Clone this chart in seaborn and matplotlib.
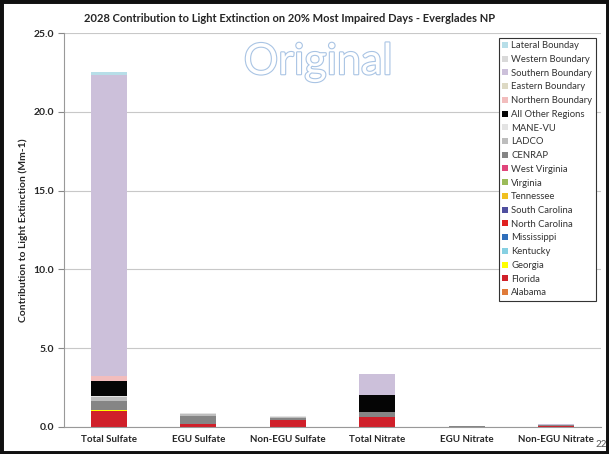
"""2028 light extinction contributions at Everglades NP, stacked by source region."""

import matplotlib.pyplot as plt
import matplotlib.patheffects as pe
import numpy as np
import pandas as pd
import seaborn as sns
from matplotlib.patches import Patch, Rectangle


CATEGORIES = ["Total Sulfate", "EGU Sulfate", "Non-EGU Sulfate",
              "Total Nitrate", "EGU Nitrate", "Non-EGU Nitrate"]

# legend order (top of stack first)
SOURCES = ["Lateral Bounday", "Western Boundary", "Southern Boundary",
           "Eastern Boundary", "Northern Boundary", "All Other Regions",
           "MANE-VU", "LADCO", "CENRAP", "West Virginia", "Virginia",
           "Tennessee", "South Carolina", "North Carolina", "Mississippi",
           "Kentucky", "Georgia", "Florida", "Alabama"]

COLORS = ["#B7DEE8", "#D9D9D9", "#CCC0DA", "#DDD9C4", "#F2BDBD", "#050505",
          "#E3E3E3", "#BDBDBD", "#858585", "#E0457B", "#9BBB59",
          "#F0C020", "#4F4F9F", "#E02020", "#2F6EBA",
          "#86D0E2", "#FFFF00", "#D0202A", "#E07B39"]

# values in Mm-1 (per category, in CATEGORIES order)
lateral = [0.20, 0.00, 0.00, 0.00, 0.00, 0.00]
southern = [19.10, 0.00, 0.00, 1.33, 0.00, 0.10]
northern = [0.35, 0.00, 0.00, 0.03, 0.00, 0.00]
all_other = [0.92, 0.00, 0.00, 1.10, 0.00, 0.00]
mane_vu = [0.10, 0.03, 0.03, 0.00, 0.00, 0.00]
ladco = [0.20, 0.15, 0.10, 0.00, 0.01, 0.00]
cenrap = [0.62, 0.48, 0.12, 0.30, 0.04, 0.04]
georgia = [0.06, 0.00, 0.00, 0.00, 0.00, 0.00]
florida = [1.00, 0.22, 0.42, 0.62, 0.01, 0.08]

SERIES = {
    "Lateral Bounday": lateral,
    "Southern Boundary": southern,
    "Northern Boundary": northern,
    "All Other Regions": all_other,
    "MANE-VU": mane_vu,
    "LADCO": ladco,
    "CENRAP": cenrap,
    "Georgia": georgia,
    "Florida": florida,
}

rows = []
for source in SOURCES:
    values = SERIES.get(source, [0.0] * len(CATEGORIES))
    for cat, val in zip(CATEGORIES, values):
        rows.append({"category": cat, "source": source, "value": val})
frame = pd.DataFrame(rows)
frame["category"] = pd.Categorical(frame["category"], CATEGORIES, ordered=True)
frame["pos"] = frame["category"].cat.codes

sns.set_style("white")
plt.rcParams["font.family"] = ["Lato", "DejaVu Sans"]

fig = plt.figure(figsize=(6.09, 4.54), dpi=100)
ax = fig.add_axes([0.105, 0.0595, 0.882, 0.8675])

sns.histplot(
    data=frame, x="pos", weights="value", hue="source",
    hue_order=SOURCES, palette=COLORS, multiple="stack",
    discrete=True, shrink=0.4, alpha=1, linewidth=0,
    legend=False, ax=ax,
)

ax.set_xlim(-0.5, len(CATEGORIES) - 0.5)
ax.set_ylim(0, 25)
ax.set_yticks(np.arange(0, 25.1, 5))
ax.set_yticklabels([f"{v:.1f}" for v in np.arange(0, 25.1, 5)],
                   fontsize=7.5, fontweight="bold")
ax.set_xticks(range(len(CATEGORIES)))
ax.set_xticklabels(CATEGORIES, fontsize=7.0, fontweight="bold")
ax.set_xticks(np.arange(-0.5, len(CATEGORIES), 1), minor=True)
ax.tick_params(axis="x", which="major", length=0, pad=6)
ax.tick_params(axis="x", which="minor", length=4, color="#888888", direction="out")
ax.tick_params(axis="y", length=4, color="#888888", direction="out", pad=3,
               left=True)
ax.set_xlabel("")
ax.set_ylabel("Contribution to Light Extinction (Mm-1)", fontsize=7.5,
              fontweight="bold", labelpad=4)
ax.yaxis.grid(True, color="#C8C8C8", linewidth=0.8)
ax.set_axisbelow(True)
for side in ("top", "right"):
    ax.spines[side].set_visible(False)
for side in ("left", "bottom"):
    ax.spines[side].set_color("#999999")
    ax.spines[side].set_linewidth(0.8)

fig.text(0.476, 0.96,
         "2028 Contribution to Light Extinction on 20% Most Impaired Days - Everglades NP",
         ha="center", va="center", fontsize=8, fontweight="bold")

wm = fig.text(0.522, 0.863, "Original", ha="center", va="center",
              fontsize=31, color="white")
wm.set_path_effects([pe.Stroke(linewidth=1.6, foreground="#A9C4E4"), pe.Normal()])

handles = [Patch(facecolor=c, edgecolor="none") for c in COLORS]
leg = ax.legend(handles, SOURCES, loc="upper left",
                bbox_to_anchor=(499 / 609, 1 - 38 / 454),
                bbox_transform=fig.transFigure, borderaxespad=0,
                fontsize=6.8, handlelength=0.6, handleheight=0.6,
                handletextpad=0.35, labelspacing=0.5, borderpad=0.35,
                fancybox=False, framealpha=1)
leg.get_frame().set_edgecolor("#333333")
leg.get_frame().set_linewidth(0.8)
for t in leg.get_texts():
    t.set_color("#333333")

fig.text(596 / 609, 0.02, "22", ha="left", va="center", fontsize=7,
         color="#555555")

# dark slide frame around the screenshot
fig.patches.append(Rectangle((0, 0), 1, 1, transform=fig.transFigure,
                             fill=False, edgecolor="#111111", linewidth=5))

fig.savefig("out.png", dpi=100)
